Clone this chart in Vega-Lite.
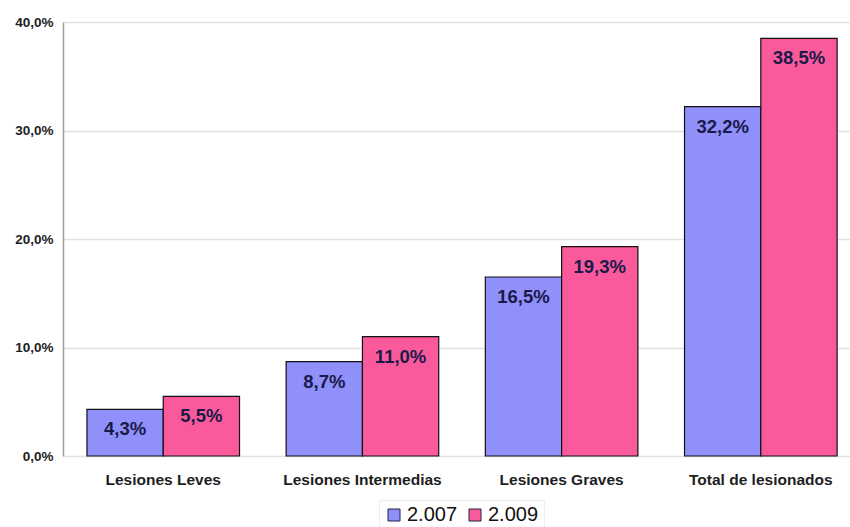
{
  "$schema": "https://vega.github.io/schema/vega-lite/v6.json",
  "autosize": "none",
  "width": 787,
  "height": 434,
  "padding": {"left": 63, "top": 22, "right": 0, "bottom": 71},
  "background": "white",
  "config": {
    "locale": {"number": {"decimal": ",", "thousands": ".", "grouping": [3], "currency": ["", " €"]}},
    "view": {"stroke": null},
    "font": "Liberation Sans"
  },
  "data": {
    "values": [
      {"categoria": "Lesiones Leves", "anio": "2.007", "valor": 0.043},
      {"categoria": "Lesiones Leves", "anio": "2.009", "valor": 0.055},
      {"categoria": "Lesiones Intermedias", "anio": "2.007", "valor": 0.087},
      {"categoria": "Lesiones Intermedias", "anio": "2.009", "valor": 0.110},
      {"categoria": "Lesiones Graves", "anio": "2.007", "valor": 0.165},
      {"categoria": "Lesiones Graves", "anio": "2.009", "valor": 0.193},
      {"categoria": "Total de lesionados", "anio": "2.007", "valor": 0.322},
      {"categoria": "Total de lesionados", "anio": "2.009", "valor": 0.385}
    ]
  },
  "encoding": {
    "x": {
      "field": "categoria", "type": "nominal", "sort": null,
      "scale": {"paddingInner": 0.234, "paddingOuter": 0.0925, "align": 0.65},
      "axis": {
        "title": null, "labelAngle": 0, "ticks": false, "domain": false,
        "labelFont": "Liberation Sans", "labelFontSize": 15.5, "labelFontWeight": "bold",
        "labelColor": "#1e1e1e", "labelPadding": 16
      }
    },
    "xOffset": {"field": "anio", "type": "nominal"},
    "y": {
      "field": "valor", "type": "quantitative",
      "scale": {"domain": [0, 0.4], "nice": false},
      "axis": {
        "title": null, "values": [0, 0.1, 0.2, 0.3, 0.4], "format": ".1%",
        "ticks": false, "domainColor": "#a0a0a0", "domainWidth": 1.5,
        "gridColor": "#e2e2e2", "gridWidth": 1.5,
        "labelFont": "Liberation Sans", "labelFontSize": 13.5, "labelFontWeight": "bold",
        "labelColor": "#1e1e1e", "labelPadding": 10
      }
    }
  },
  "layer": [
    {
      "mark": {"type": "bar", "stroke": "#111111", "strokeWidth": 1.2},
      "encoding": {
        "color": {
          "field": "anio", "type": "nominal",
          "scale": {"domain": ["2.007", "2.009"], "range": ["#9090FA", "#FA5A9C"]},
          "legend": {
            "title": null, "orient": "none", "direction": "horizontal",
            "legendX": 316, "legendY": 478,
            "symbolType": "square", "symbolSize": 144, "symbolStrokeColor": "#222244",
            "symbolStrokeWidth": 1, "symbolOpacity": 1,
            "labelFont": "Liberation Sans", "labelFontSize": 20, "labelColor": "#111111",
            "columnPadding": 7, "labelOffset": 3,
            "strokeColor": "#eeeeee", "padding": 5
          }
        }
      }
    },
    {
      "mark": {"type": "text", "baseline": "top", "dy": 11, "font": "Liberation Sans", "fontWeight": "bold", "fontSize": 18.5, "color": "#1a1a4a"},
      "encoding": {
        "text": {"field": "valor", "type": "quantitative", "format": ".1%"}
      }
    }
  ]
}
